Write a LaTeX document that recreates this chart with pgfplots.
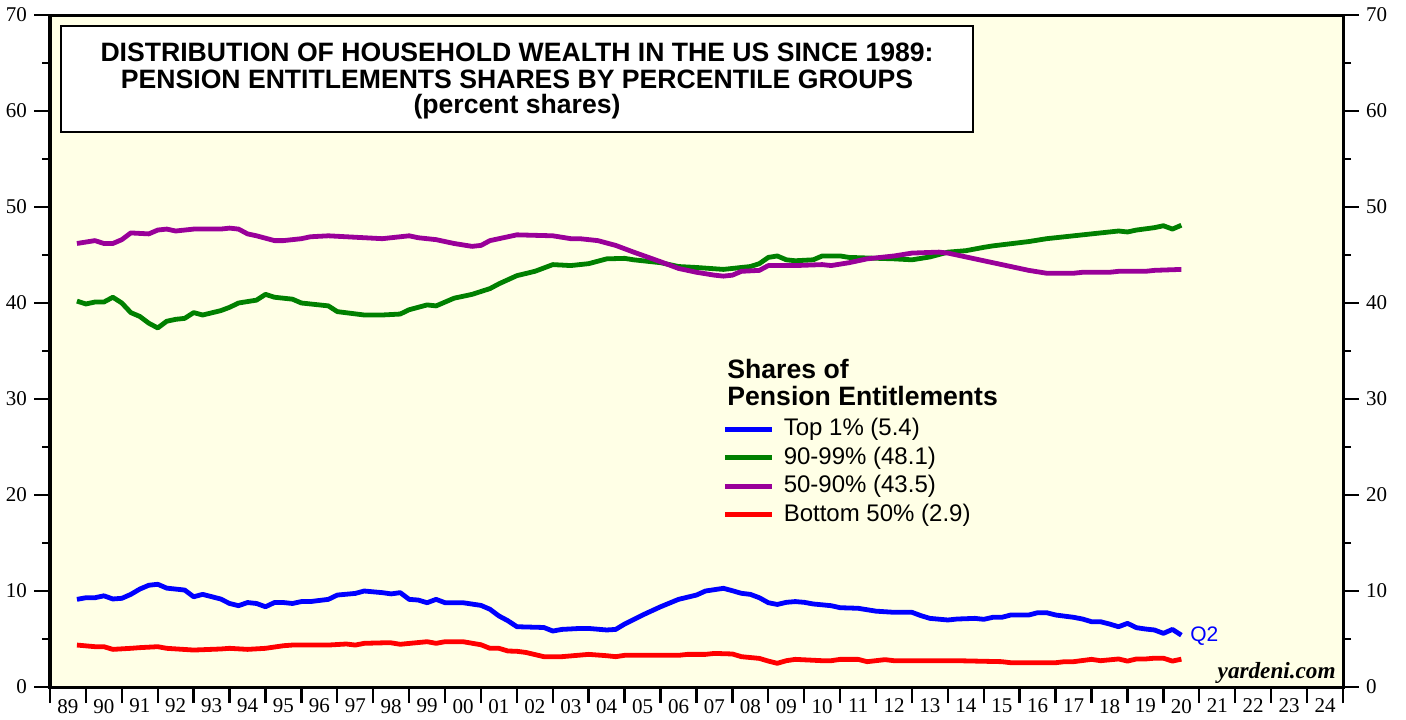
\documentclass[border=0pt]{standalone}
\usepackage{fontspec}
\setmainfont{Liberation Serif}
\setsansfont{Liberation Sans}
\usepackage{pgfplots}
\pgfplotsset{compat=1.18}
\definecolor{bgyellow}{RGB}{255,255,230}
\definecolor{cblue}{RGB}{0,0,255}
\definecolor{cgreen}{RGB}{0,128,0}
\definecolor{cpurple}{RGB}{153,0,153}
\definecolor{cred}{RGB}{255,0,0}
\begin{document}
\begin{tikzpicture}
\path[use as bounding box] (-25pt,-16pt) rectangle (678pt,343.5pt);
\pgfplotsset{
  common/.style={
    at={(0,0)}, anchor=south west, scale only axis,
    width=646.5pt, height=336pt,
    xmin=1989, xmax=2025, ymin=0, ymax=70,
    axis line style={line width=1.5pt},
    ytick={0,10,...,70}, minor ytick={5,15,...,65},
    tick align=outside,
    major tick length=8pt, minor tick length=4pt,
    ytick style={line width=0.6pt, black},
    minor tick style={line width=0.6pt, black},
    /pgf/number format/assume math mode=true,
    tick label style={font=\fontsize{10.5}{12}\selectfont},
  }
}
\begin{axis}[common,
  axis background/.style={fill=bgyellow},
  ytick pos=left,
  xtick={1989,...,2025}, xticklabels={}, xtick pos=bottom,
  xtick style={line width=1.2pt, black},
  extra x ticks={1989.5,1990.5,...,2024.5},
  extra x tick labels={89,90,91,92,93,94,95,96,97,98,99,00,01,02,03,04,05,06,07,08,09,10,11,12,13,14,15,16,17,18,19,20,21,22,23,24},
  extra x tick style={major tick length=0pt, tick style={draw=none}},
  xticklabel style={yshift=-2.5pt},
  legend cell align=left,
  legend image code/.code={\draw[#1, line width=2.4pt] (0pt,0pt) -- (23.5pt,0pt);},
  legend style={draw=none, fill=none, inner sep=0pt, outer sep=0pt,
    at={(rel axis cs:0.5205,0.4048)}, anchor=north west,
    nodes={inner sep=0pt, text height=10.5pt, text depth=3.75pt},
    font=\sffamily\fontsize{12}{14}\selectfont,
    /tikz/every odd column/.append style={column sep=4.5pt}},
  every axis plot/.append style={line width=2.4pt, line join=round, no markers},
]
\draw[line width=1pt, fill=white] (rel axis cs:0.0085,0.9836) rectangle (rel axis cs:0.7139,0.8264);
\node[anchor=base, inner sep=0pt, font=\sffamily\bfseries\fontsize{13.3}{13}\selectfont] at (rel axis cs:0.3612,0.9305) {DISTRIBUTION OF HOUSEHOLD WEALTH IN THE US SINCE 1989:};
\node[anchor=base, inner sep=0pt, font=\sffamily\bfseries\fontsize{13.3}{13}\selectfont] at (rel axis cs:0.3612,0.8909) {PENSION ENTITLEMENTS SHARES BY PERCENTILE GROUPS};
\node[anchor=base, inner sep=0pt, font=\sffamily\bfseries\fontsize{13.3}{13}\selectfont] at (rel axis cs:0.3612,0.8537) {(percent shares)};
\node[anchor=base west, inner sep=0pt, font=\sffamily\bfseries\fontsize{13.3}{13}\selectfont] at (rel axis cs:0.5236,0.4598) {Shares of};
\node[anchor=base west, inner sep=0pt, font=\sffamily\bfseries\fontsize{13.3}{13}\selectfont] at (rel axis cs:0.5236,0.4196) {Pension Entitlements};
\node[anchor=base east, inner sep=0pt, font=\rmfamily\bfseries\itshape\fontsize{11.6}{12}\selectfont] at (rel axis cs:0.9946,0.0134) {yardeni.com};
\node[anchor=base west, inner sep=0pt, text=cblue, font=\sffamily\fontsize{10.5}{12}\selectfont] at (axis cs:2020.74,4.72) {Q2};

\addplot[cblue] coordinates {
(1989.75,9.13)(1990.0,9.3)(1990.25,9.3)(1990.5,9.5)(1990.75,9.17)(1991.0,9.24)
(1991.25,9.65)(1991.5,10.2)(1991.75,10.6)(1992.0,10.7)(1992.25,10.3)(1992.75,10.1)
(1993.0,9.4)(1993.25,9.65)(1993.75,9.17)(1994.0,8.7)(1994.25,8.47)(1994.5,8.8)
(1994.75,8.7)(1995.0,8.36)(1995.25,8.8)(1995.5,8.8)(1995.75,8.7)(1996.0,8.9)
(1996.25,8.9)(1996.75,9.13)(1997.0,9.58)(1997.5,9.75)(1997.75,10.0)(1998.25,9.83)
(1998.5,9.7)(1998.75,9.83)(1999.0,9.13)(1999.25,9.06)(1999.5,8.78)(1999.75,9.13)
(2000.0,8.78)(2000.5,8.78)(2001.0,8.5)(2001.25,8.1)(2001.5,7.4)(2001.75,6.9)
(2002.0,6.28)(2002.75,6.2)(2003.0,5.83)(2003.25,6.0)(2003.75,6.1)(2004.0,6.1)
(2004.5,5.94)(2004.75,6.0)(2005.0,6.56)(2005.5,7.5)(2006.0,8.36)(2006.5,9.13)
(2007.0,9.58)(2007.25,10.0)(2007.75,10.28)(2008.0,10.03)(2008.25,9.76)(2008.5,9.65)
(2008.75,9.3)(2009.0,8.78)(2009.25,8.6)(2009.5,8.82)(2009.75,8.9)(2010.0,8.82)
(2010.25,8.65)(2010.75,8.47)(2011.0,8.26)(2011.5,8.2)(2012.0,7.9)(2012.5,7.78)
(2013.0,7.78)(2013.25,7.43)(2013.5,7.15)(2014.0,6.98)(2014.25,7.08)(2014.75,7.15)
(2015.0,7.05)(2015.25,7.26)(2015.5,7.26)(2015.75,7.5)(2016.25,7.5)(2016.5,7.74)
(2016.75,7.74)(2017.0,7.5)(2017.5,7.26)(2017.75,7.08)(2018.0,6.8)(2018.25,6.8)
(2018.5,6.56)(2018.75,6.28)(2019.0,6.63)(2019.25,6.18)(2019.5,6.04)(2019.75,5.94)
(2020.0,5.59)(2020.25,6.0)(2020.5,5.4)
};
\addlegendentry{Top 1\% (5.4)}
\addplot[cgreen] coordinates {
(1989.75,40.2)(1990.0,39.9)(1990.25,40.1)(1990.5,40.1)(1990.75,40.6)(1991.0,40.0)
(1991.25,39.0)(1991.5,38.6)(1991.75,37.9)(1992.0,37.4)(1992.25,38.1)(1992.5,38.3)
(1992.75,38.4)(1993.0,39.0)(1993.25,38.75)(1993.75,39.2)(1994.0,39.55)(1994.25,40.0)
(1994.75,40.3)(1995.0,40.9)(1995.25,40.6)(1995.75,40.4)(1996.0,40.0)(1996.75,39.7)
(1997.0,39.1)(1997.75,38.75)(1998.25,38.75)(1998.75,38.85)(1999.0,39.3)(1999.5,39.8)
(1999.75,39.7)(2000.0,40.1)(2000.25,40.5)(2000.75,40.9)(2001.25,41.5)(2001.5,42.0)
(2002.0,42.85)(2002.5,43.3)(2003.0,44.0)(2003.5,43.9)(2004.0,44.1)(2004.5,44.6)
(2005.0,44.65)(2005.25,44.5)(2006.0,44.2)(2006.5,43.8)(2007.0,43.7)(2007.75,43.5)
(2008.5,43.8)(2008.75,44.1)(2009.0,44.75)(2009.25,44.9)(2009.5,44.5)(2009.75,44.4)
(2010.25,44.5)(2010.5,44.9)(2011.0,44.9)(2011.25,44.75)(2012.5,44.6)(2013.0,44.5)
(2013.5,44.8)(2014.0,45.3)(2014.5,45.45)(2015.0,45.8)(2015.25,45.95)(2016.25,46.4)
(2016.75,46.7)(2017.5,47.0)(2018.25,47.3)(2018.75,47.5)(2019.0,47.4)(2019.25,47.6)
(2019.75,47.85)(2020.0,48.05)(2020.25,47.7)(2020.5,48.1)
};
\addlegendentry{90-99\% (48.1)}
\addplot[cpurple] coordinates {
(1989.75,46.2)(1990.25,46.5)(1990.5,46.2)(1990.75,46.2)(1991.0,46.6)(1991.25,47.3)
(1991.75,47.2)(1992.0,47.6)(1992.25,47.7)(1992.5,47.5)(1993.0,47.7)(1993.75,47.7)
(1994.0,47.8)(1994.25,47.7)(1994.5,47.2)(1994.75,47.0)(1995.25,46.5)(1995.5,46.5)
(1996.0,46.7)(1996.25,46.9)(1996.75,47.0)(1997.25,46.9)(1998.25,46.7)(1999.0,47.0)
(1999.25,46.8)(1999.75,46.6)(2000.25,46.2)(2000.75,45.9)(2001.0,46.0)(2001.25,46.5)
(2001.5,46.7)(2002.0,47.1)(2003.0,47.0)(2003.5,46.7)(2003.75,46.7)(2004.25,46.5)
(2004.75,46.0)(2005.25,45.3)(2006.0,44.3)(2006.5,43.6)(2007.0,43.2)(2007.5,42.9)
(2007.75,42.8)(2008.0,42.9)(2008.25,43.3)(2008.75,43.4)(2009.0,43.9)(2009.75,43.9)
(2010.5,44.0)(2010.75,43.9)(2011.25,44.2)(2011.75,44.6)(2012.5,44.9)(2013.0,45.2)
(2013.75,45.3)(2014.0,45.2)(2014.5,44.8)(2015.25,44.2)(2015.5,44.0)(2016.25,43.4)
(2016.75,43.1)(2017.5,43.1)(2017.75,43.2)(2018.5,43.2)(2018.75,43.3)(2019.5,43.3)
(2019.75,43.4)(2020.5,43.5)
};
\addlegendentry{50-90\% (43.5)}
\addplot[cred] coordinates {
(1989.75,4.37)(1990.25,4.2)(1990.5,4.2)(1990.75,3.92)(1991.25,4.03)(1991.5,4.1)
(1992.0,4.2)(1992.25,4.03)(1993.0,3.85)(1993.75,3.96)(1994.0,4.03)(1994.5,3.92)
(1995.0,4.03)(1995.5,4.3)(1995.75,4.37)(1996.75,4.37)(1997.25,4.48)(1997.5,4.37)
(1997.75,4.55)(1998.25,4.6)(1998.5,4.6)(1998.75,4.45)(1999.5,4.72)(1999.75,4.55)
(2000.0,4.72)(2000.5,4.72)(2001.0,4.4)(2001.25,4.03)(2001.5,4.03)(2001.75,3.75)
(2002.0,3.72)(2002.25,3.6)(2002.75,3.16)(2003.25,3.16)(2004.0,3.4)(2004.5,3.26)
(2004.75,3.16)(2005.0,3.3)(2006.5,3.3)(2006.75,3.4)(2007.25,3.4)(2007.5,3.5)
(2008.0,3.44)(2008.25,3.16)(2008.75,2.98)(2009.0,2.7)(2009.25,2.47)(2009.5,2.74)
(2009.75,2.88)(2010.5,2.74)(2010.75,2.74)(2011.0,2.88)(2011.5,2.88)(2011.75,2.64)
(2012.25,2.85)(2012.5,2.74)(2014.25,2.74)(2015.5,2.64)(2015.75,2.53)(2017.0,2.53)
(2017.25,2.64)(2017.5,2.64)(2018.0,2.88)(2018.25,2.74)(2018.75,2.92)(2019.0,2.7)
(2019.25,2.92)(2019.5,2.92)(2019.75,3.0)(2020.0,3.0)(2020.25,2.7)(2020.5,2.9)
};
\addlegendentry{Bottom 50\% (2.9)}
\end{axis}
\begin{axis}[common,
  hide x axis,
  ytick pos=right, yticklabel pos=right,
]
\end{axis}
\end{tikzpicture}
\end{document}
